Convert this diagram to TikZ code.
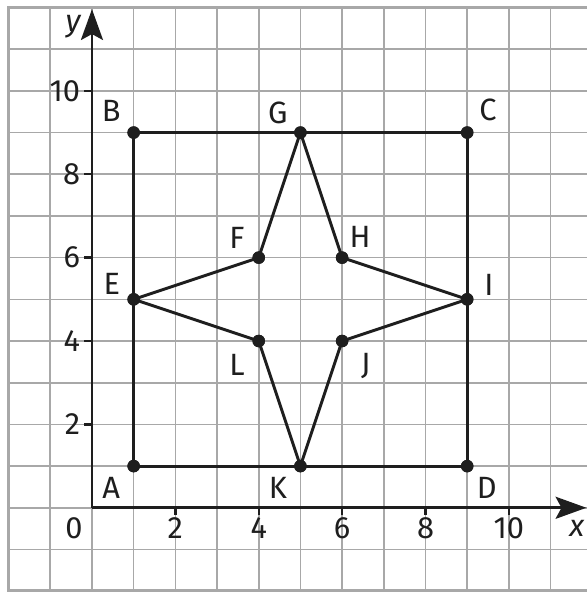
\documentclass[tikz,border=0pt]{standalone}
\usepackage{fontspec}
\setmainfont{Fira Sans}
\usetikzlibrary{arrows.meta}
\definecolor{gridc}{HTML}{A8A8A8}
\definecolor{ink}{HTML}{1E1E1E}
\tikzset{
  gridline/.style={draw=gridc, line width=1.1pt},
  frameline/.style={draw=gridc, line width=2.6pt},
  axisline/.style={draw=ink, line width=2pt, -{Stealth[length=21pt,width=15pt,inset=4pt]}},
  shapeline/.style={draw=ink, line width=2pt, line join=round},
  tickline/.style={draw=ink, line width=1.6pt},
  pt/.style={circle, fill=ink, inner sep=0pt, minimum size=0.3cm},
  lab/.style={text=ink, font=\fontsize{21}{24}\selectfont, inner sep=0pt},
  num/.style={text=ink, font=\fontsize{21}{24}\selectfont, inner sep=0pt},
}
\begin{document}
\begin{tikzpicture}
\useasboundingbox[fill=white] (-2.206,-2.02) rectangle (11.87,12.18);
% grid
\foreach \x in {-1,...,11} \draw[gridline] (\x,-2) -- (\x,12);
\foreach \y in {-1,...,11} \draw[gridline] (-2,\y) -- (11.87,\y);
\draw[frameline] (11.87,-2) -- (-2,-2) -- (-2,12) -- (11.87,12);
% axes
\coordinate (O) at (0,0);
\coordinate (xend) at (11.86,0);
\coordinate (yend) at (0,11.96);
\draw[axisline] (O) -- (xend);
\draw[axisline] (O) -- (yend);
\foreach \k in {2,4,6,8,10} {
  \draw[tickline] (\k,0) -- (\k,-0.18);
  \draw[tickline] (0,\k) -- (-0.2,\k);
  \node[num, anchor=north] (xl\k) at (\k,-0.22) {\k};
  \node[num, anchor=east] (yl\k) at (-0.28,\k) {\k};
}
\node[num] (zero) at (-0.43,-0.48) {0};
\node[lab] (xlab) at (11.63,-0.5) {\itshape x};
\node[lab] (ylab) at (-0.45,11.53) {\itshape y};
% points
\node[pt] (A) at (1,1) {};
\node[pt] (B) at (1,9) {};
\node[pt] (C) at (9,9) {};
\node[pt] (D) at (9,1) {};
\node[pt] (E) at (1,5) {};
\node[pt] (F) at (4,6) {};
\node[pt] (G) at (5,9) {};
\node[pt] (H) at (6,6) {};
\node[pt] (I) at (9,5) {};
\node[pt] (J) at (6,4) {};
\node[pt] (K) at (5,1) {};
\node[pt] (L) at (4,4) {};
% segments
\draw[shapeline] (A.center) -- (B.center) -- (C.center) -- (D.center) -- cycle;
\draw[shapeline] (G.center) -- (H.center) -- (I.center) -- (J.center) -- (K.center) -- (L.center) -- (E.center) -- (F.center) -- cycle;
% redraw dots on top
\foreach \p/\q in {A/1,B/1,C/1,D/1,E/1,F/1,G/1,H/1,I/1,J/1,K/1,L/1}
  \fill[ink] (\p.center) circle (0.15);
% labels
\node[lab] (lA) at (0.46,0.48) {A};
\node[lab] (lB) at (0.46,9.52) {B};
\node[lab] (lC) at (9.5,9.54) {C};
\node[lab] (lD) at (9.47,0.48) {D};
\node[lab] (lE) at (0.48,5.37) {E};
\node[lab] (lF) at (3.48,6.47) {F};
\node[lab] (lG) at (4.46,9.47) {G};
\node[lab] (lH) at (6.43,6.5) {H};
\node[lab] (lI) at (9.52,5.35) {I};
\node[lab] (lJ) at (6.57,3.4) {J};
\node[lab] (lK) at (4.46,0.48) {K};
\node[lab] (lL) at (3.48,3.43) {L};
\end{tikzpicture}
\end{document}
